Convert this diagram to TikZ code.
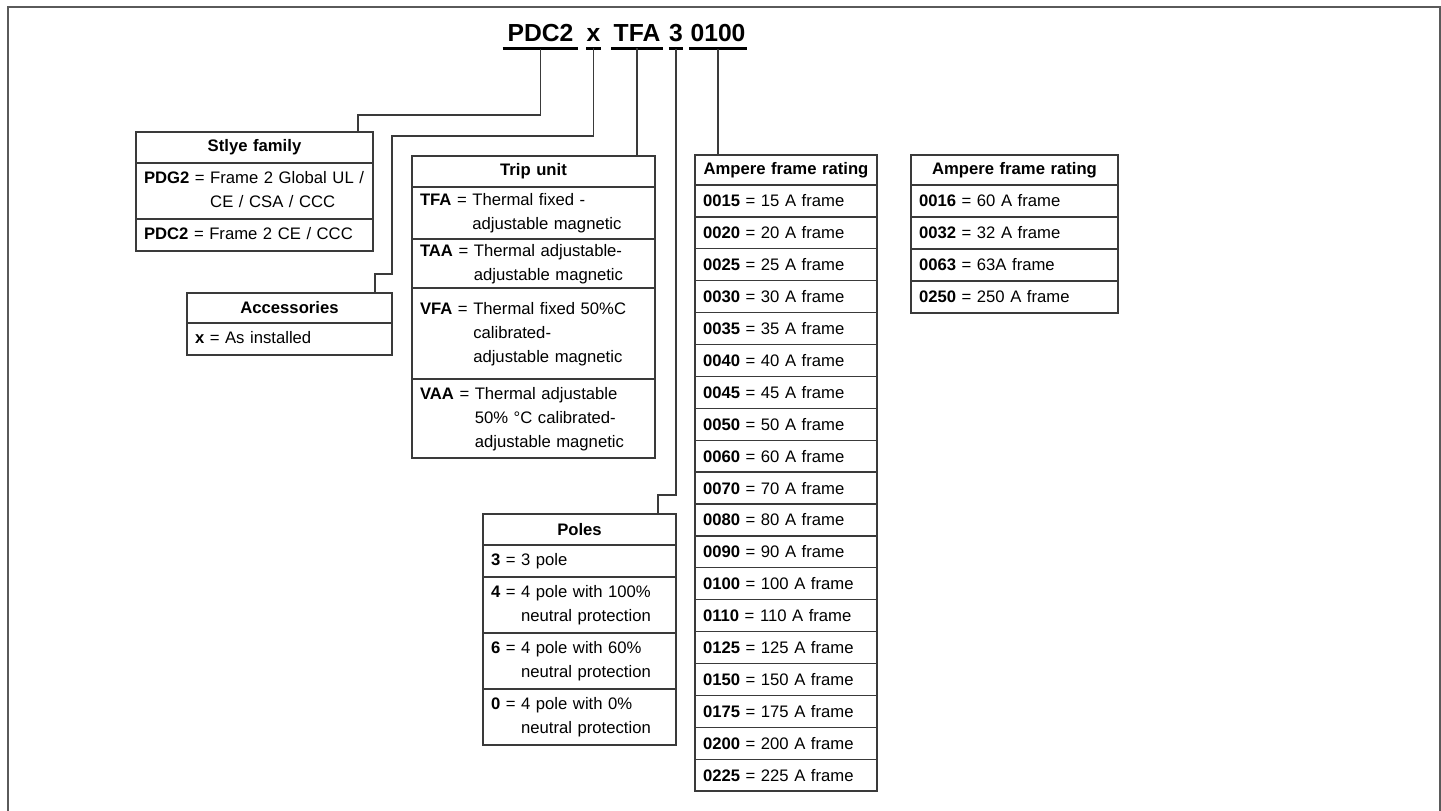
\documentclass[tikz,border=0pt]{standalone}
\usepackage{fontspec}
\setmainfont{Liberation Sans}
\usetikzlibrary{positioning}

\definecolor{boxline}{HTML}{3A3A3A}
\definecolor{framegray}{HTML}{5A5A5A}
\newcommand{\bodyfont}{\fontsize{12.5}{18}\selectfont}
\newcommand{\titlefont}{\fontsize{18.5}{22}\selectfont\bfseries}
\newcommand{\code}[2]{\begin{tabular}{@{}l@{}l@{}}\textbf{#1} = \null & #2\end{tabular}}

\begin{document}
\begin{tikzpicture}[x=0.75pt, y=-0.75pt,
    hdr/.style={draw=boxline, line width=1pt, outer sep=0pt, inner xsep=6pt, inner ysep=0pt,
                minimum height=#1, font=\bodyfont\bfseries, align=center},
    hdr/.default=23.25pt,
    row/.style={draw=boxline, line width=1pt, outer sep=0pt, inner xsep=6pt, inner ysep=0pt,
                minimum height=#1, font=\bodyfont, align=left},
    row/.default=24pt,
    tcode/.style={font=\titlefont, inner xsep=0pt, inner ysep=5.25pt, anchor=base, minimum width=#1},
    link/.style={draw=boxline, line width=1.1pt},
    uline/.style={line width=2pt}]
\useasboundingbox (0,0) rectangle (1441,810);

% outer frame
\draw[framegray, line width=1.5pt] (8,815) -- (8,7) -- (1439.5,7) -- (1439.5,815);

% catalogue number
\node[tcode=56.25pt] (t-pdc) at (540.5,41) {PDC2};
\node[tcode=9.75pt] (t-x) at (593.5,41) {x};
\node[tcode=38.25pt] (t-tfa) at (637,41) {TFA};
\node[tcode=9pt] (t-pole) at (676,41) {3};
\node[tcode=42.75pt] (t-amp) at (718,41) {0100};
\foreach \n in {t-pdc,t-x,t-tfa,t-pole,t-amp}
    \draw[uline] (\n.south west) -- (\n.south east);

% style family
\begin{scope}[nodes={text width=165.75pt}]
    \node[hdr, anchor=north west] (sty-h) at (136,132) {Stlye family};
    \node[row=42pt, below=0pt of sty-h] (sty-1) {\code{PDG2}{Frame 2 Global UL /\\ & CE / CSA / CCC}};
    \node[row, below=0pt of sty-1] (sty-2) {\code{PDC2}{Frame 2 CE / CCC}};
\end{scope}

% accessories
\begin{scope}[nodes={text width=141.75pt}]
    \node[hdr=22.5pt, anchor=north west] (acc-h) at (187,293) {Accessories};
    \node[row, below=0pt of acc-h] (acc-1) {\code{x}{As installed}};
\end{scope}

% trip unit
\begin{scope}[nodes={text width=170.25pt}]
    \node[hdr, anchor=north west] (trip-h) at (412,156) {Trip unit};
    \node[row=39pt, below=0pt of trip-h] (trip-1) {\code{TFA}{Thermal fixed -\\ & adjustable magnetic}};
    \node[row=36.75pt, below=0pt of trip-1] (trip-2) {\code{TAA}{Thermal adjustable-\\ & adjustable magnetic}};
    \node[row=68.25pt, below=0pt of trip-2] (trip-3) {\code{VFA}{Thermal fixed 50\%C\\ & calibrated-\\ & adjustable magnetic}};
    \node[row=59.25pt, below=0pt of trip-3] (trip-4) {\code{VAA}{Thermal adjustable\\ & 50\% °C calibrated-\\ & adjustable magnetic}};
\end{scope}

% poles
\begin{scope}[nodes={text width=132.75pt}]
    \node[hdr, anchor=north west] (pole-h) at (483,514) {Poles};
    \node[row, below=0pt of pole-h] (pole-1) {\code{3}{3 pole}};
    \node[row=42pt, below=0pt of pole-1] (pole-2) {\code{4}{4 pole with 100\%\\ & neutral protection}};
    \node[row=42pt, below=0pt of pole-2] (pole-3) {\code{6}{4 pole with 60\%\\ & neutral protection}};
    \node[row=42pt, below=0pt of pole-3] (pole-4) {\code{0}{4 pole with 0\%\\ & neutral protection}};
\end{scope}

% ampere frame ratings
\begin{scope}[nodes={text width=124.5pt}]
    \node[hdr=22.5pt, anchor=north west] (amp-h) at (695,155) {Ampere frame rating};
    \foreach \rating/\frm [count=\i] in {0015/15 A,0020/20 A,0025/25 A,0030/30 A,0035/35 A,
            0040/40 A,0045/45 A,0050/50 A,0060/60 A,0070/70 A,0080/80 A,0090/90 A,
            0100/100 A,0110/110 A,0125/125 A,0150/150 A,0175/175 A,0200/200 A,0225/225 A}
        \node[row=23.925pt, anchor=north west] (amp-\i) at (695,{185+31.9*(\i-1)})
            {\textbf{\rating} = \frm\ frame};
\end{scope}

\begin{scope}[nodes={text width=143.25pt}]
    \node[hdr=22.5pt, anchor=north west] (ampb-h) at (911,155) {Ampere frame rating};
    \foreach \rating/\frm [count=\i] in {0016/60 A,0032/32 A,0063/63A,0250/250 A}
        \node[row, anchor=north west] (ampb-\i) at (911,{185+32*(\i-1)})
            {\textbf{\rating} = \frm\ frame};
\end{scope}

% connectors
\coordinate (b1) at (358,115);
\coordinate (b2) at (392,136);
\coordinate (b3) at (375,274);
\coordinate (b4) at (658,495);
\draw[link] (t-pdc.south) |- (b1) -- (b1 |- sty-h.north);
\draw[link] (t-x.south) |- (b2) |- (b3) -- (b3 |- acc-h.north);
\draw[link] (t-tfa.south) -- (t-tfa.south |- trip-h.north);
\draw[link] (t-pole.south) |- (b4) -- (b4 |- pole-h.north);
\draw[link] (t-amp.south) -- (t-amp.south |- amp-h.north);
\end{tikzpicture}
\end{document}
